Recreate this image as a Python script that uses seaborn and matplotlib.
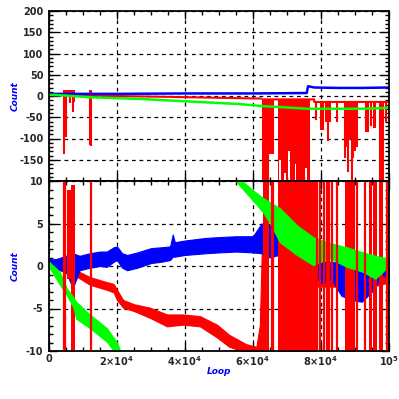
import numpy as np
import pandas as pd
import matplotlib
matplotlib.use("Agg")
import matplotlib.pyplot as plt
import seaborn as sns
from matplotlib.ticker import MultipleLocator, FixedLocator

sns.set_style("white")
plt.rcParams['font.family'] = ['DejaVu Sans']
plt.rcParams['mathtext.default'] = 'regular'
plt.rcParams['mathtext.fontset'] = 'dejavusans'

BLUE = '#0000ff'
RED = '#ff0000'
GREEN = '#00ff00'

# ---------------- data (x in loops) ----------------
x_ticks = [0, 20000, 40000, 60000, 80000, 100000]
x_tick_labels = ['0', r'$\mathbf{2{\times}10^{4}}$', r'$\mathbf{4{\times}10^{4}}$',
                 r'$\mathbf{6{\times}10^{4}}$', r'$\mathbf{8{\times}10^{4}}$', r'$\mathbf{10^{5}}$']
top_y_ticks = [-150, -100, -50, 0, 50, 100, 150, 200]
bot_y_ticks = [-10, -5, 0, 5, 10]

# top panel lines
blue_top_x = [0, 20000, 40000, 60000, 75800, 76200, 78000, 85000, 92000, 100000]
blue_top_y = [5, 5, 6, 6, 7, 23, 20, 19, 19, 20]
green_top_x = [0, 5000, 12000, 27000, 41500, 56000, 63000, 68000, 76000, 83000, 92000, 100000]
green_top_y = [3, 1, -3, -7, -13, -19, -24, -26, -30, -30, -30, -28]
red_top_x = [0, 20000, 35000, 55000, 62500]
red_top_y = [2, 0, -2, -5, -6]
red_top_late_x = [63000, 78000, 78001, 100000]
red_top_late_y = [-8, -8, -14, -14]
# top panel red early block
red_top_block_x = [4000, 7600]
red_top_block_lo = [0, 0]
red_top_block_hi = [14, 14]
# top panel red dense block (67.4k - 76.8k), bottoms per step
red_top_dense_x = [67400, 68000, 68500, 69000, 69500, 70000, 70500, 71000, 71500,
                   72000, 72500, 73000, 73500, 74000, 74500, 75000, 75500, 76000, 76800]
red_top_dense_lo = [-200, -150, -200, -200, -180, -200, -130, -200, -200,
                    -200, -160, -200, -200, -200, -200, -200, -170, -200, -200]
red_top_dense_hi = [-7] * 19
# top panel red spikes
red_top_spike_x = [4400, 5000, 6300, 7000, 7400, 12100, 12300,
                   63000, 63300, 63600, 64000, 64500, 65000, 65500, 66000,
                   78500, 80000, 80500, 81500, 82000, 82500, 84700,
                   87100, 87600, 88000, 88500, 89000, 89500, 90000, 90700,
                   93300, 93700, 94600, 95500, 95900, 97300, 97700, 98100, 99000]
red_top_spike_lo = [-136, -96, -17, -38, -15, -115, -118,
                    -200, -200, -200, -200, -200, -137, -137, -137,
                    -57, -81, -81, -60, -107, -60, -60,
                    -147, -120, -178, -100, -200, -147, -130, -119,
                    -84, -84, -70, -75, -75, -200, -200, -200, -60]
red_top_spike_hi = [14, 14, 14, 14, 14, 14, 14,
                    -7, -7, -7, -7, -7, -7, -7, -7,
                    -14, -14, -14, -14, -14, -14, -14,
                    -14, -14, -14, -14, -14, -14, -14, -14,
                    -14, -14, -14, -14, -14, -14, -14, -14, -14]

# bottom panel blue band
blue_x = [0, 2000, 5000, 7000, 9000, 12000, 15000, 17000, 19000, 20000, 21500, 23000,
          26000, 30000, 33000, 35600, 36400, 37000, 40000, 46000, 50000, 55000, 60000,
          62500, 65000, 67500, 70000, 75000, 78000, 80000, 83000, 86000, 89000, 92000,
          95000, 98000, 100000]
blue_lo = [-0.3, -0.3, -0.7, -2.6, -0.5, -0.2, 0.0, -0.1, 0.5, 0.7, -0.2, -0.5,
           -0.2, 0.35, 0.5, 0.7, 1.1, 1.1, 1.3, 1.5, 1.6, 1.7, 1.6,
           1.5, 1.0, 1.3, 0.5, 0.0, -1.0, -2.0, -1.5, -3.5, -4.0, -4.2,
           -3.0, -1.2, -1.3]
blue_hi = [0.8, 0.8, 1.2, 1.5, 1.2, 1.5, 1.7, 1.7, 2.2, 2.3, 1.5, 1.3,
           1.6, 2.1, 2.2, 2.3, 3.7, 2.8, 3.0, 3.3, 3.4, 3.5, 3.5,
           5.0, 4.8, 4.8, 4.0, 3.0, 1.5, 0.5, 0.5, 0.3, 0.0, 0.0,
           0.2, 0.2, -0.3]

# bottom panel red declining band
red_x = [0, 2000, 5000, 8000, 12000, 17000, 19000, 20000, 21800, 25000, 29700, 34700,
         39400, 44400, 49400, 53000, 58000, 61000, 62000, 62800]
red_lo = [0.2, -0.3, -0.8, -1.2, -2.2, -2.8, -3.1, -4.0, -4.9, -5.3, -6.1, -7.1,
          -6.9, -7.1, -8.4, -9.5, -10.2, -10.2, -10.2, -10.2]
red_hi = [0.8, 0.5, 0.0, -0.5, -1.3, -1.9, -2.1, -2.8, -4.0, -4.5, -4.9, -5.7,
          -5.7, -5.9, -6.9, -8.1, -9.2, -9.5, -7.0, 5.0]
# red low band at right end
red_end_x = [79000, 85000, 90000, 95000, 100000]
red_end_lo = [-2.5, -2.5, -2.2, -2.5, -2.0]
red_end_hi = [-0.5, -0.5, -0.6, -0.5, -0.4]
# bottom panel red blocks (x0, x1, lo, hi)
red_blk_x0 = [5200, 6500, 63000, 67400, 87100, 94200, 95400, 97200]
red_blk_x1 = [6500, 7600, 64800, 78400, 90000, 94900, 96400, 98300]
red_blk_lo = [-1.5, -10.5, -10.5, -10.5, -10.5, -10.5, -10.5, -10.5]
red_blk_hi = [9.0, 9.5, 10.5, 10.5, 10.5, 10.5, 10.5, 10.5]
# bottom panel red full-height lines
red_line_x = [4300, 4700, 12300, 65500, 65900, 78900, 79700, 80900, 81700, 82300,
              83100, 84600, 90500, 92900, 99300]

# bottom panel green bands
green1_x = [0, 3200, 5200, 7200, 8000, 12000, 17000, 20000, 21000]
green1_lo = [-0.1, -2.2, -3.4, -4.9, -6.2, -7.3, -8.9, -10.5, -11]
green1_hi = [0.5, -0.7, -2.6, -3.7, -4.2, -5.7, -7.3, -9.0, -10]
green2_x = [55000, 56000, 60000, 63000, 65000, 67900, 72900, 77700, 82600, 87600,
            92400, 96000, 99400, 100000]
green2_lo = [10, 9.5, 7.7, 6.3, 5.0, 2.8, 1.3, 0.1, 0.9, -0.1, -0.7, -1.5, -0.2, -0.2]
green2_hi = [11, 10.3, 8.9, 8.0, 7.5, 6.8, 4.8, 3.4, 2.7, 2.2, 1.6, 1.2, 0.9, 0.9]

# ---------------- figure ----------------
fig = plt.figure(figsize=(3.99, 3.99), dpi=100)
W, H = 399, 399
ax1 = fig.add_axes([49 / W, 1 - 181 / H, 340 / W, 170 / H])
ax2 = fig.add_axes([49 / W, 1 - 351 / H, 340 / W, 170 / H])

# top panel
df_bt = pd.DataFrame({'x': blue_top_x, 'y': blue_top_y})
df_gt = pd.DataFrame({'x': green_top_x, 'y': green_top_y})
df_rt = pd.DataFrame({'x': red_top_x, 'y': red_top_y})
df_rtl = pd.DataFrame({'x': red_top_late_x, 'y': red_top_late_y})
ax1.fill_between(red_top_block_x, red_top_block_lo, red_top_block_hi, color=RED, lw=0)
ax1.fill_between(red_top_dense_x, red_top_dense_lo, red_top_dense_hi, color=RED, lw=0,
                 step='mid')
ax1.vlines(red_top_spike_x, red_top_spike_lo, red_top_spike_hi, color=RED, lw=1.5)
sns.lineplot(data=df_rt, x='x', y='y', ax=ax1, color=RED, lw=1.5, estimator=None)
sns.lineplot(data=df_rtl, x='x', y='y', ax=ax1, color=RED, lw=1.5, estimator=None)
sns.lineplot(data=df_bt, x='x', y='y', ax=ax1, color=BLUE, lw=1.8, estimator=None)
sns.lineplot(data=df_gt, x='x', y='y', ax=ax1, color=GREEN, lw=1.8, estimator=None)

# bottom panel
ax2.fill_between(red_x, red_lo, red_hi, color=RED, lw=0.8, edgecolor=RED)
ax2.fill_between(red_end_x, red_end_lo, red_end_hi, color=RED, lw=0)
ax2.fill_between(blue_x, blue_lo, blue_hi, color=BLUE, lw=0.8, edgecolor=BLUE)
for x0, x1, lo, hi in zip(red_blk_x0, red_blk_x1, red_blk_lo, red_blk_hi):
    ax2.fill_between([x0, x1], [lo, lo], [hi, hi], color=RED, lw=0)
ax2.vlines(red_line_x, -10.5, 10.5, color=RED, lw=1.6)
ax2.fill_between(green1_x, green1_lo, green1_hi, color=GREEN, lw=0.8, edgecolor=GREEN)
ax2.fill_between(green2_x, green2_lo, green2_hi, color=GREEN, lw=0.8, edgecolor=GREEN)

for ax in (ax1, ax2):
    ax.set_xlim(0, 100000)
    ax.xaxis.set_major_locator(FixedLocator(x_ticks))
    ax.xaxis.set_minor_locator(MultipleLocator(5000))
    ax.set_axisbelow(True)
    ax.grid(True, which='major', color='black', linestyle=(0, (3, 3)), lw=0.9, zorder=0.5)
    for s in ax.spines.values():
        s.set_color('black')
        s.set_linewidth(1.3)
        s.set_visible(True)
        s.set_zorder(5)
    ax.tick_params(which='both', direction='in', top=True, right=True, bottom=True,
                   left=True, color='black', width=1.0, zorder=6)
    ax.tick_params(which='major', length=6)
    ax.tick_params(which='minor', length=3)
    ax.tick_params(axis='both', labelsize=7, pad=4)
    ax.set_ylabel('Count', color=BLUE, fontsize=6.5, fontweight='bold', style='italic')
    ax.yaxis.set_label_coords(-0.085, 0.5)
    ax.set_xlabel('')

ax1.set_ylim(-200, 200)
ax1.yaxis.set_major_locator(FixedLocator(top_y_ticks))
ax1.yaxis.set_minor_locator(MultipleLocator(10))
ax1.set_yticklabels([str(v) for v in top_y_ticks])
ax1.tick_params(axis='x', labelbottom=False)

ax2.set_ylim(-10, 10)
ax2.yaxis.set_major_locator(FixedLocator(bot_y_ticks))
ax2.yaxis.set_minor_locator(MultipleLocator(1))
ax2.set_yticklabels([str(v) for v in bot_y_ticks])
ax2.set_xticklabels(x_tick_labels)
ax2.tick_params(axis='x', pad=2)
ax2.set_xlabel('Loop', color=BLUE, fontsize=6.5, fontweight='bold', style='italic')
ax2.xaxis.set_label_coords(0.5, -0.095)

for lab in ax1.get_yticklabels() + ax2.get_yticklabels() + ax2.get_xticklabels():
    lab.set_fontweight('bold')

fig.savefig('out.png', dpi=100, facecolor='white')
